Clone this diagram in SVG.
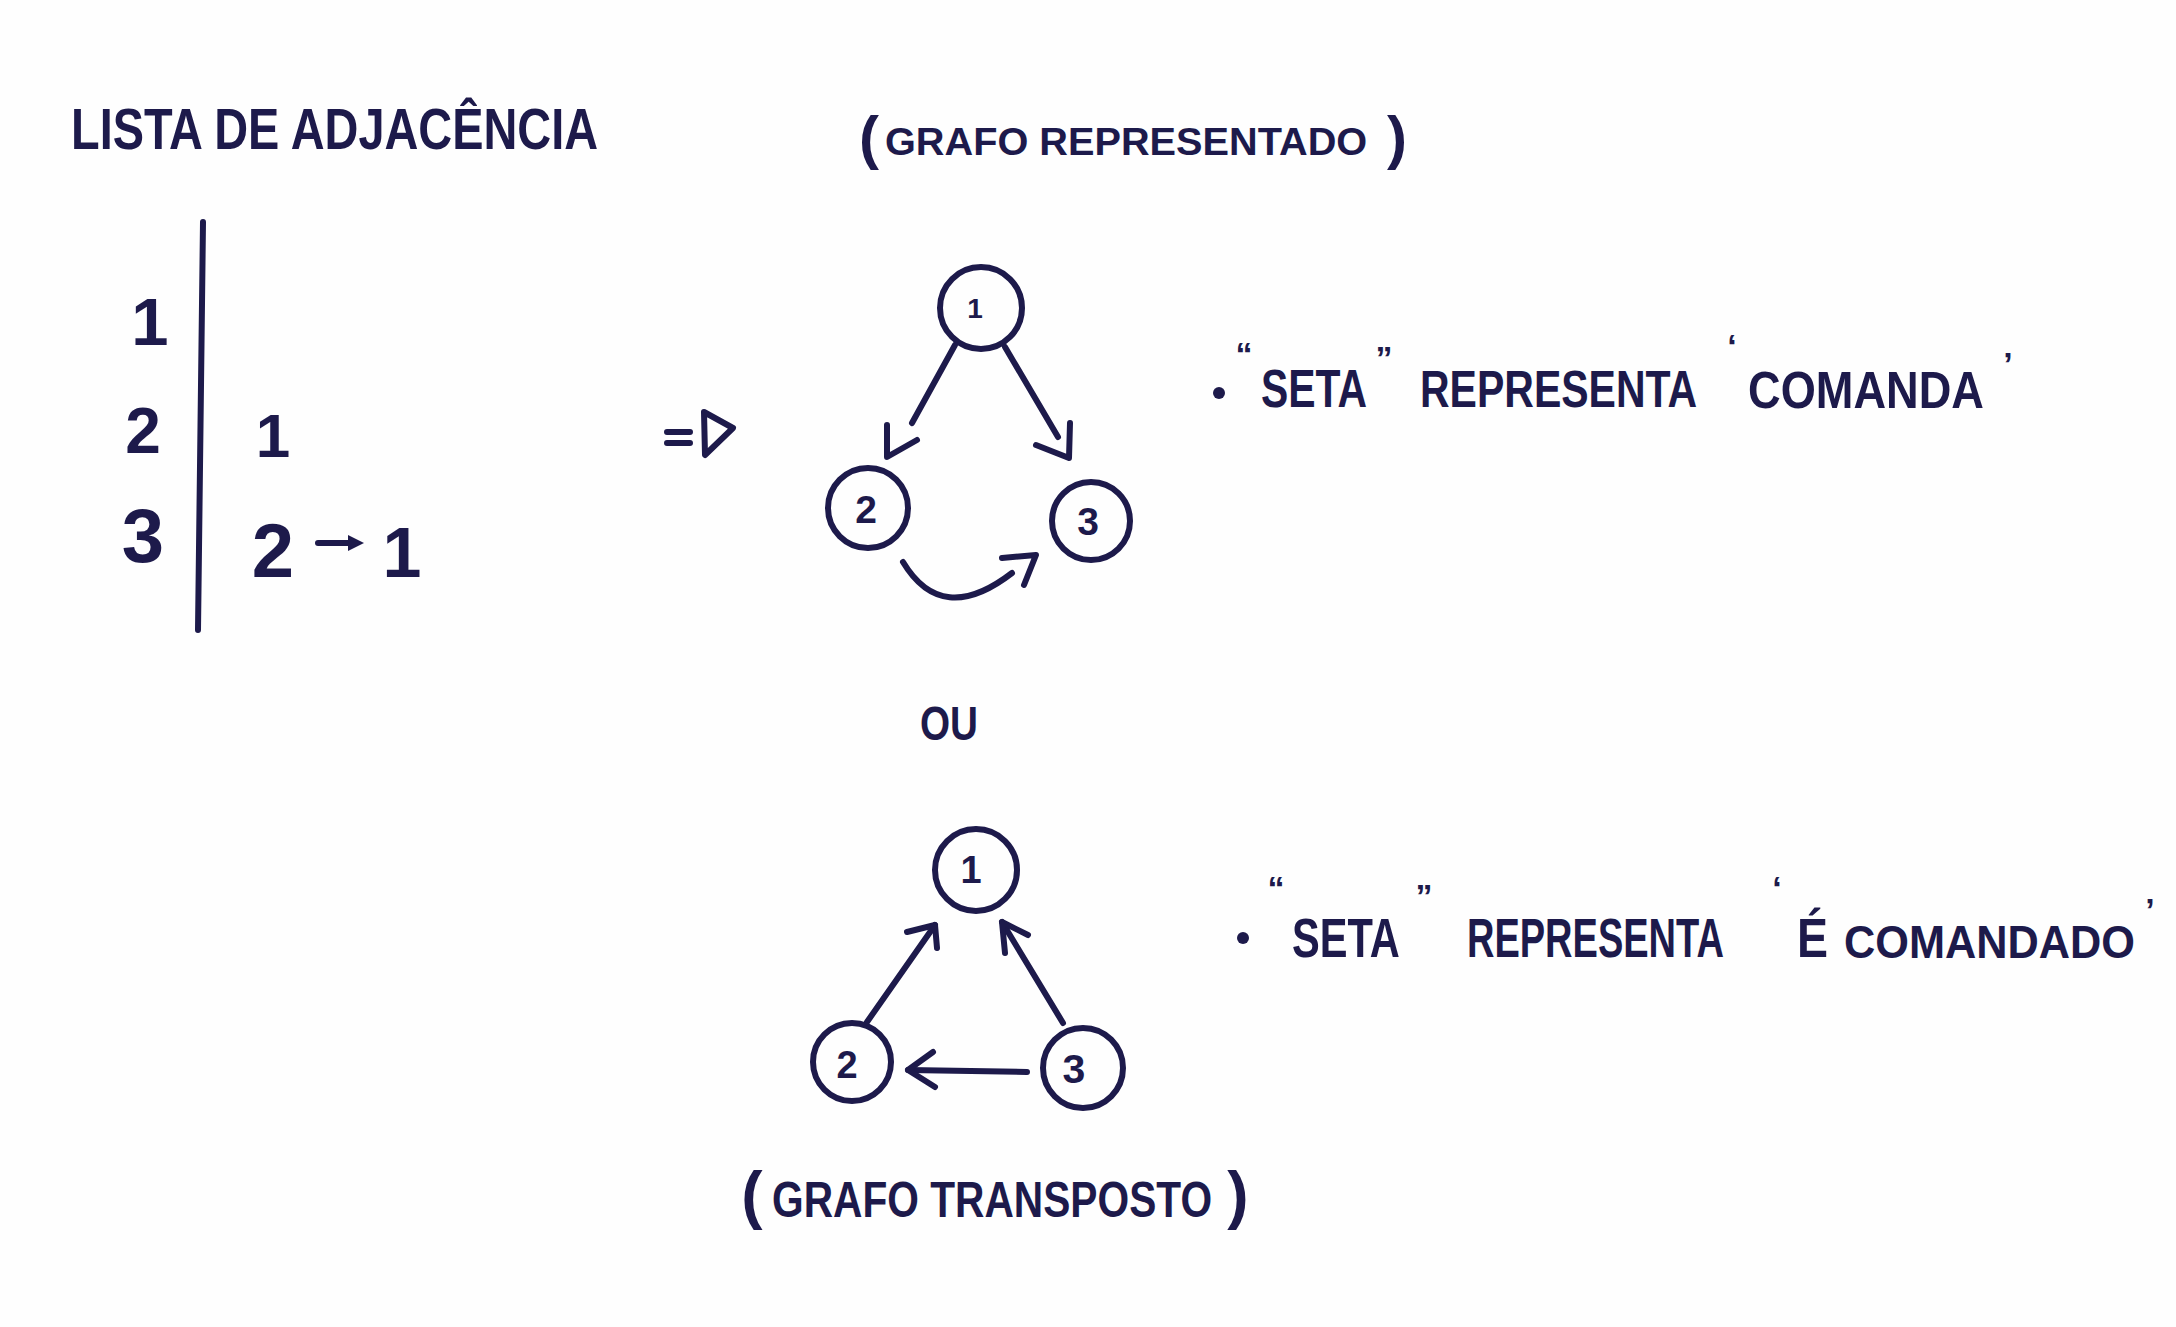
<svg xmlns="http://www.w3.org/2000/svg" width="2176" height="1327" viewBox="0 0 2176 1327">
<defs>
<style>
.t{font-family:"Liberation Sans",Arial,sans-serif;font-weight:bold;fill:#1d1a4b}
.q{font-size:34px}
.s{fill:none;stroke:#1d1a4b;stroke-width:6;stroke-linecap:round;stroke-linejoin:round}
.n{fill:none;stroke:#1d1a4b;stroke-width:6}
.b{fill:#1d1a4b}
</style>
</defs>
<rect width="2176" height="1327" fill="#fefefe"/>

<g id="title">
<text class="t" transform="translate(71,149) scale(1,1.215)" font-size="46.9">LISTA DE ADJACÊNCIA</text>
</g>

<g id="adjacency-list">
<path class="s" d="M203,222 L198,630"/>
<text class="t" x="150" y="345" font-size="67" text-anchor="middle">1</text>
<text class="t" x="143" y="453" font-size="64" text-anchor="middle">2</text>
<text class="t" x="143" y="562" font-size="76" text-anchor="middle">3</text>
<text class="t" x="273" y="457" font-size="62" text-anchor="middle">1</text>
<text class="t" x="273" y="577" font-size="76" text-anchor="middle">2</text>
<path class="s" d="M318,543 L350,543"/>
<polygon class="b" points="348,535 364,543 348,551"/>
<text class="t" x="402" y="577" font-size="70" text-anchor="middle">1</text>
</g>

<g id="implies">
<path class="s" d="M667,432 L690,432 M667,443 L690,443"/>
<path class="s" d="M704,412 L733,428 L705,455 Z"/>
</g>

<g id="label-grafo-representado">
<text class="t" x="869" y="158" font-size="60" text-anchor="middle">(</text>
<text class="t" x="885" y="155" font-size="39.7">GRAFO REPRESENTADO</text>
<text class="t" x="1397" y="158" font-size="60" text-anchor="middle">)</text>
</g>

<g id="g1-node1"><circle class="n" cx="981" cy="308" r="41"/><text class="t" x="975" y="318" font-size="28" text-anchor="middle">1</text></g>
<g id="g1-node2"><circle class="n" cx="868" cy="508" r="40"/><text class="t" x="866" y="523" font-size="39" text-anchor="middle">2</text></g>
<g id="g1-node3"><circle class="n" cx="1091" cy="521" r="39"/><text class="t" x="1088" y="535" font-size="39" text-anchor="middle">3</text></g>

<g id="g1-connectors">
<path class="s" d="M955,345 L912,423"/>
<path class="s" d="M887,425 L887,457 L917,440"/>
<path class="s" d="M1005,347 L1058,437"/>
<path class="s" d="M1070,423 L1069,458 L1036,445"/>
<path class="s" d="M903,562 Q942,627 1012,573"/>
<path class="s" d="M1002,558 L1036,555 L1024,585"/>
</g>

<g id="note1">
<circle class="b" cx="1219" cy="393" r="6"/>
<text class="t q" x="1244" y="366" text-anchor="middle">“</text>
<text class="t" transform="translate(1261,407) scale(1,1.32)" font-size="40.9">SETA</text>
<text class="t q" x="1384" y="370" text-anchor="middle">”</text>
<text class="t" transform="translate(1420,407) scale(1,1.27)" font-size="41">REPRESENTA</text>
<text class="t q" x="1732" y="358" text-anchor="middle">‘</text>
<text class="t" transform="translate(1748,408) scale(1,1.15)" font-size="45.2">COMANDA</text>
<text class="t q" x="2008" y="376" text-anchor="middle">’</text>
</g>

<g id="ou">
<text class="t" transform="translate(920,740) scale(1,1.24)" font-size="38.7">OU</text>
</g>

<g id="g2-node1"><circle class="n" cx="976" cy="870" r="41"/><text class="t" x="971" y="883" font-size="38" text-anchor="middle">1</text></g>
<g id="g2-node2"><circle class="n" cx="852" cy="1062" r="39"/><text class="t" x="847" y="1078" font-size="38" text-anchor="middle">2</text></g>
<g id="g2-node3"><circle class="n" cx="1083" cy="1068" r="40"/><text class="t" x="1074" y="1083" font-size="41" text-anchor="middle">3</text></g>

<g id="g2-connectors">
<path class="s" d="M867,1022 L935,925"/>
<path class="s" d="M907,932 L935,925 L937,948"/>
<path class="s" d="M1063,1023 L1002,922"/>
<path class="s" d="M1005,953 L1002,922 L1028,935"/>
<path class="s" d="M1027,1072 L908,1070"/>
<path class="s" d="M933,1052 L908,1070 L935,1087"/>
</g>

<g id="note2">
<circle class="b" cx="1243" cy="938" r="6"/>
<text class="t q" x="1276" y="900" text-anchor="middle">“</text>
<text class="t" transform="translate(1292,957) scale(1,1.346)" font-size="41.6">SETA</text>
<text class="t q" x="1424" y="908" text-anchor="middle">”</text>
<text class="t" transform="translate(1467,957) scale(1,1.47)" font-size="38">REPRESENTA</text>
<text class="t q" x="1777" y="900" text-anchor="middle">‘</text>
<text class="t" transform="translate(1797,957) scale(1,1.2)" font-size="46.5">É</text>
<text class="t" transform="translate(1844,958) scale(1,1.06)" font-size="43.3">COMANDADO</text>
<text class="t q" x="2150" y="922" text-anchor="middle">’</text>
</g>

<g id="label-grafo-transposto">
<text class="t" x="752" y="1217" font-size="64" text-anchor="middle">(</text>
<text class="t" transform="translate(772,1217) scale(1,1.228)" font-size="40.7">GRAFO TRANSPOSTO</text>
<text class="t" x="1238" y="1217" font-size="64" text-anchor="middle">)</text>
</g>
</svg>
